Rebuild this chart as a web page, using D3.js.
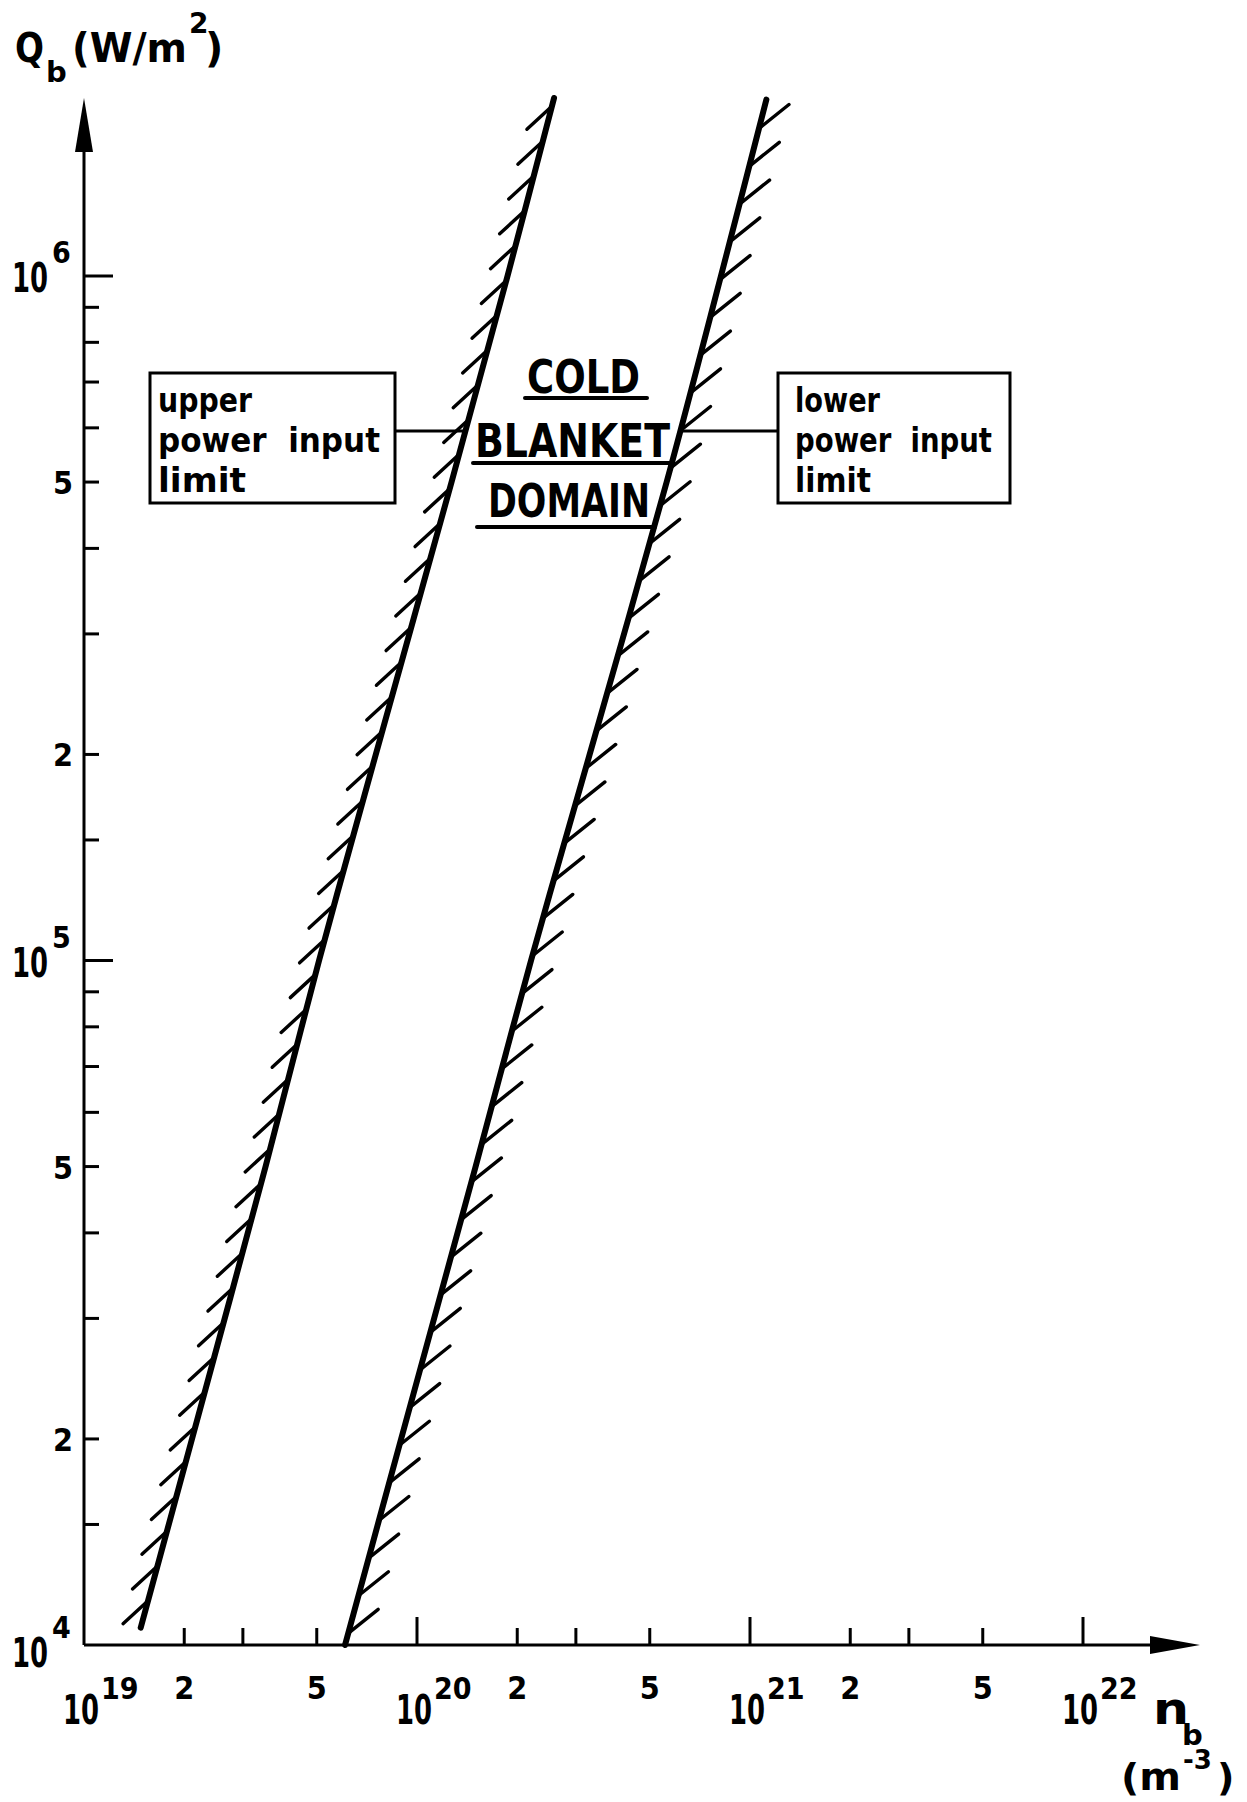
<!DOCTYPE html>
<html>
<head>
<meta charset="utf-8">
<script src="https://cdn.jsdelivr.net/npm/d3@7"></script>
<style>
body { margin: 0; background: #fff; }
text { font-family: "DejaVu Sans", sans-serif; font-weight: bold; fill: #000; }
.num { font-family: "Liberation Sans Narrow", "DejaVu Sans Condensed", "DejaVu Sans", sans-serif; }
</style>
</head>
<body>
<script>
// upper power input limit (left boundary), Q_b in W/m2 vs n_b in m-3
var q_upper = [1.06e4, 2e4, 5e4, 1e5, 2e5, 5e5, 1e6, 1.82e6];
var n_upper = [1.48e19, 2.11e19, 3.51e19, 5.08e19, 7.52e19, 1.27e20, 1.87e20, 2.58e20];
// lower power input limit (right boundary)
var q_lower = [1e4, 2e4, 5e4, 1e5, 2e5, 5e5, 1e6, 1.81e6];
var n_lower = [6.08e19, 8.96e19, 1.50e20, 2.20e20, 3.30e20, 5.62e20, 8.18e20, 1.12e21];

var x_major = [1e19, 1e20, 1e21, 1e22];
var x_minor = [2e19, 3e19, 5e19, 2e20, 3e20, 5e20, 2e21, 3e21, 5e21];
var x_labeled = [2e19, 5e19, 2e20, 5e20, 2e21, 5e21];
var y_major = [1e4, 1e5, 1e6];
var y_minor = [1.5e4, 2e4, 3e4, 4e4, 5e4, 6e4, 7e4, 8e4, 9e4,
               1.5e5, 2e5, 3e5, 4e5, 5e5, 6e5, 7e5, 8e5, 9e5];
var y_labeled = [2e4, 5e4, 2e5, 5e5];
var domain_words = ["COLD", "BLANKET", "DOMAIN"];
var upper_words = ["upper", "power  input", "limit"];
var lower_words = ["lower", "power  input", "limit"];

var width = 1247;
var height = 1802;

var svg = d3.select('body').append('svg')
      .attr('width', width)
      .attr('height', height);

var x = d3.scaleLog().domain([1e19, 1e22]).range([84, 1083]);
var y = d3.scaleLog().domain([1e4, 1e6]).range([1645, 276]);

var x0 = x(1e19);
var y0 = y(1e4);

const leading = (v) => {
    return String(Math.round(v / Math.pow(10, Math.floor(Math.log10(v) + 1e-9))));
}
const expo = (v) => {
    return String(Math.round(Math.log10(v)));
}

// axes lines and arrows
svg.append('line')
    .attr('x1', x0).attr('y1', y0)
    .attr('x2', x0).attr('y2', 140)
    .attr('stroke', '#000').attr('stroke-width', 3);
svg.append('path')
    .attr('d', 'M' + x0 + ',98 L' + (x0 - 9) + ',152 L' + (x0 + 9) + ',152 Z')
    .attr('fill', '#000');
svg.append('line')
    .attr('x1', x0).attr('y1', y0)
    .attr('x2', 1160).attr('y2', y0)
    .attr('stroke', '#000').attr('stroke-width', 3);
svg.append('path')
    .attr('d', 'M1200,' + y0 + ' L1150,' + (y0 - 9) + ' L1150,' + (y0 + 9) + ' Z')
    .attr('fill', '#000');

// ticks
svg.selectAll('.ymaj').data(y_major.slice(1)).enter().append('line')
    .attr('x1', x0).attr('x2', x0 + 29)
    .attr('y1', d => y(d)).attr('y2', d => y(d))
    .attr('stroke', '#000').attr('stroke-width', 3);
svg.selectAll('.ymin').data(y_minor).enter().append('line')
    .attr('x1', x0).attr('x2', x0 + 15)
    .attr('y1', d => y(d)).attr('y2', d => y(d))
    .attr('stroke', '#000').attr('stroke-width', 3);
svg.selectAll('.xmaj').data(x_major.slice(1)).enter().append('line')
    .attr('x1', d => x(d)).attr('x2', d => x(d))
    .attr('y1', y0).attr('y2', y0 - 28)
    .attr('stroke', '#000').attr('stroke-width', 3);
svg.selectAll('.xmin').data(x_minor).enter().append('line')
    .attr('x1', d => x(d)).attr('x2', d => x(d))
    .attr('y1', y0).attr('y2', y0 - 17)
    .attr('stroke', '#000').attr('stroke-width', 3);

// power-of-ten label as one text: base "10" plus raised exponent
const pow_label = (sel, bx, by, ex, ey) => {
    var t = sel.append('text').attr('class', 'num');
    t.append('tspan')
        .attr('x', bx).attr('y', by)
        .attr('font-size', 41)
        .attr('textLength', 36).attr('lengthAdjust', 'spacingAndGlyphs')
        .text('10');
    t.append('tspan')
        .attr('x', ex).attr('y', ey)
        .attr('font-size', 30)
        .text(d => expo(d));
}

// y tick labels
var y_shift = [6, 0, 0];
svg.selectAll('.ylab').data(y_major).enter().append('g')
    .each(function (d, i) {
        var yy = y(d) + y_shift[i];
        pow_label(d3.select(this), 12, yy + 16, 52, yy - 13);
    });
svg.selectAll('.ylabmin').data(y_labeled).enter().append('text')
    .attr('class', 'num')
    .attr('x', 73).attr('y', d => y(d) + 12)
    .attr('text-anchor', 'end')
    .attr('font-size', 32)
    .text(d => leading(d));

// x tick labels
svg.selectAll('.xlab').data(x_major).enter().append('g')
    .each(function (d) {
        var xx = x(d);
        pow_label(d3.select(this), xx - 21, 1724, xx + 17, 1699);
    });
svg.selectAll('.xlabmin').data(x_labeled).enter().append('text')
    .attr('class', 'num')
    .attr('x', d => x(d)).attr('y', 1699)
    .attr('text-anchor', 'middle')
    .attr('font-size', 32)
    .text(d => leading(d));

// axis titles
var ytitle = svg.append('text');
ytitle.append('tspan').attr('x', 15).attr('y', 62).attr('font-size', 40)
    .attr('textLength', 29).attr('lengthAdjust', 'spacingAndGlyphs').text('Q');
ytitle.append('tspan').attr('x', 46).attr('y', 82).attr('font-size', 29).text('b');
ytitle.append('tspan').attr('x', 72).attr('y', 62).attr('font-size', 40)
    .attr('textLength', 115).attr('lengthAdjust', 'spacingAndGlyphs').text('(W/m');
ytitle.append('tspan').attr('x', 189).attr('y', 33).attr('font-size', 28).text('2');
ytitle.append('tspan').attr('x', 205).attr('y', 62).attr('font-size', 40).text(')');

var xtitle = svg.append('text');
xtitle.append('tspan').attr('x', 1153).attr('y', 1724).attr('font-size', 44)
    .attr('textLength', 36).attr('lengthAdjust', 'spacingAndGlyphs').text('n');
xtitle.append('tspan').attr('x', 1182).attr('y', 1745).attr('font-size', 29).text('b');

var xunit = svg.append('text');
xunit.append('tspan').attr('x', 1121).attr('y', 1790).attr('font-size', 38)
    .attr('textLength', 60).attr('lengthAdjust', 'spacingAndGlyphs').text('(m');
xunit.append('tspan').attr('x', 1183).attr('y', 1769).attr('font-size', 26).text('-3');
xunit.append('tspan').attr('x', 1217).attr('y', 1790).attr('font-size', 38).text(')');

// boundary curves
var line = d3.line()
    .x(d => x(d[0]))
    .y(d => y(d[1]))
    .curve(d3.curveCatmullRom);

var upper_pts = n_upper.map((n, i) => [n, q_upper[i]]);
var lower_pts = n_lower.map((n, i) => [n, q_lower[i]]);

var upper_path = svg.append('path')
    .attr('d', line(upper_pts))
    .attr('fill', 'none').attr('stroke', '#000')
    .attr('stroke-width', 6).attr('stroke-linecap', 'round');
var lower_path = svg.append('path')
    .attr('d', line(lower_pts))
    .attr('fill', 'none').attr('stroke', '#000')
    .attr('stroke-width', 6).attr('stroke-linecap', 'round');

const hatch = (node, start, step, dx, dy) => {
    var len = node.getTotalLength();
    var pts = [];
    for (var s = start; s < len - 6; s += step) {
        pts.push(node.getPointAtLength(s));
    }
    svg.append('g').selectAll('line')
        .data(pts)
        .enter()
        .append('line')
        .attr('x1', p => p.x).attr('y1', p => p.y)
        .attr('x2', p => p.x + dx).attr('y2', p => p.y + dy)
        .attr('stroke', '#000').attr('stroke-width', 3.4)
        .attr('stroke-linecap', 'round');
}
hatch(upper_path.node(), 28, 36, -25, 23);
hatch(lower_path.node(), 12, 39, 30, -24);

// interpolate n on a boundary for a given Q (log-log)
const n_at = (qs, ns, q) => {
    var lq = Math.log10(q);
    for (var i = 1; i < qs.length; i++) {
        var a = Math.log10(qs[i - 1]);
        var b = Math.log10(qs[i]);
        if (lq <= b) {
            var t = (lq - a) / (b - a);
            return Math.pow(10, Math.log10(ns[i - 1]) + t * (Math.log10(ns[i]) - Math.log10(ns[i - 1])));
        }
    }
    return ns[ns.length - 1];
}

// label boxes with leader lines
var box_y = 373;
var box_h = 130;
var lead_y = 431;

svg.append('rect')
    .attr('x', 150).attr('y', box_y).attr('width', 245).attr('height', box_h)
    .attr('fill', 'none').attr('stroke', '#000').attr('stroke-width', 3);
svg.append('line')
    .attr('x1', 395).attr('y1', lead_y)
    .attr('x2', x(n_at(q_upper, n_upper, y.invert(lead_y)))).attr('y2', lead_y)
    .attr('stroke', '#000').attr('stroke-width', 3);
svg.append('rect')
    .attr('x', 778).attr('y', box_y).attr('width', 232).attr('height', box_h)
    .attr('fill', 'none').attr('stroke', '#000').attr('stroke-width', 3);
svg.append('line')
    .attr('x1', x(n_at(q_lower, n_lower, y.invert(lead_y)))).attr('y1', lead_y)
    .attr('x2', 778).attr('y2', lead_y)
    .attr('stroke', '#000').attr('stroke-width', 3);

var upper_len = [94, 222, 88];
var lower_len = [85, 197, 76];
svg.selectAll('.uw').data(upper_words).enter().append('text')
    .attr('x', 158).attr('y', (d, i) => 412 + i * 40)
    .attr('font-size', 33)
    .attr('textLength', (d, i) => upper_len[i]).attr('lengthAdjust', 'spacingAndGlyphs')
    .attr('xml:space', 'preserve')
    .text(d => d);
svg.selectAll('.lw').data(lower_words).enter().append('text')
    .attr('x', 795).attr('y', (d, i) => 412 + i * 40)
    .attr('font-size', 33)
    .attr('textLength', (d, i) => lower_len[i]).attr('lengthAdjust', 'spacingAndGlyphs')
    .attr('xml:space', 'preserve')
    .text(d => d);

// COLD BLANKET DOMAIN
var word_x = [527, 475, 488];
var word_len = [113, 195, 162];
var word_base = [393, 457, 517];
var under_x1 = [525, 473, 477];
var under_x2 = [647, 670, 655];
var under_y = [398, 463, 527];
svg.selectAll('.dw').data(domain_words).enter().append('text')
    .attr('x', (d, i) => word_x[i]).attr('y', (d, i) => word_base[i])
    .attr('font-size', 46)
    .attr('textLength', (d, i) => word_len[i]).attr('lengthAdjust', 'spacingAndGlyphs')
    .text(d => d);
svg.selectAll('.dl').data(domain_words).enter().append('line')
    .attr('x1', (d, i) => under_x1[i]).attr('x2', (d, i) => under_x2[i])
    .attr('y1', (d, i) => under_y[i]).attr('y2', (d, i) => under_y[i])
    .attr('stroke', '#000').attr('stroke-width', 4).attr('stroke-linecap', 'round');
</script>
</body>
</html>
